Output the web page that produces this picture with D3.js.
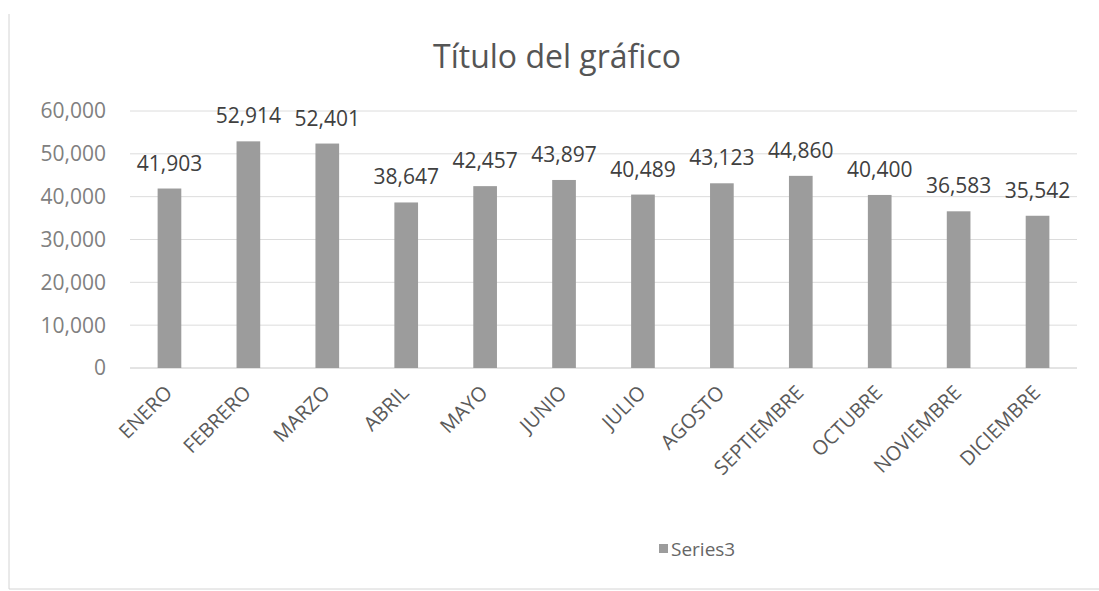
<!DOCTYPE html>
<html>
<head>
<meta charset="utf-8">
<script src="https://cdnjs.cloudflare.com/ajax/libs/d3/7.8.5/d3.min.js"></script>
<style>
    body { margin: 0; background: #fff; }
    svg text { font-family: "Open Sans", "Noto Sans", sans-serif; }
</style>
</head>
<body>
<div id="chart"></div>
<script>
// chart data
const meses = ["ENERO", "FEBRERO", "MARZO", "ABRIL", "MAYO", "JUNIO", "JULIO",
    "AGOSTO", "SEPTIEMBRE", "OCTUBRE", "NOVIEMBRE", "DICIEMBRE"];
const series3 = [41903, 52914, 52401, 38647, 42457, 43897, 40489, 43123, 44860, 40400, 36583, 35542];
const yTicks = [0, 10000, 20000, 30000, 40000, 50000, 60000];
const titulo = "Título del gráfico";
const serieNombre = "Series3";

const width = 1099;
const height = 591;

const svg = d3.select("#chart")
    .append("svg")
    .attr("width", width)
    .attr("height", height);

// faint frame of the scanned chart
svg.append("line")
    .attr("x1", 9).attr("y1", 14).attr("x2", 9).attr("y2", 589)
    .attr("stroke", "#d4d4d4");
svg.append("line")
    .attr("x1", 9).attr("y1", 589).attr("x2", width).attr("y2", 589)
    .attr("stroke", "#d4d4d4");

const x = d3.scaleBand()
    .domain(meses)
    .range([130, 1077])
    .paddingInner(0.7)
    .paddingOuter(0.35);

const y = d3.scaleLinear()
    .domain([0, 60000])
    .range([368, 111]);

const fmt = d3.format(",");

// gridlines
svg.append("g")
    .selectAll("line")
    .data(yTicks)
    .enter()
    .append("line")
    .attr("x1", 130)
    .attr("x2", 1077)
    .attr("y1", d => y(d))
    .attr("y2", d => y(d))
    .attr("stroke", d => d === 0 ? "#c8c8c8" : "#dcdcdc")
    .attr("stroke-width", 1);

// y axis labels
svg.append("g")
    .selectAll("text")
    .data(yTicks)
    .enter()
    .append("text")
    .attr("x", 106)
    .attr("y", d => y(d))
    .attr("dy", ".35em")
    .attr("text-anchor", "end")
    .style("font-size", "21px")
    .style("fill", "#808080")
    .text(d => fmt(d));

// bars
svg.append("g")
    .selectAll("rect")
    .data(series3)
    .enter()
    .append("rect")
    .attr("x", (d, i) => x(meses[i]))
    .attr("y", d => y(d))
    .attr("width", x.bandwidth())
    .attr("height", d => y(0) - y(d))
    .attr("fill", "#9c9c9c");

// data labels
svg.append("g")
    .selectAll("text")
    .data(series3)
    .enter()
    .append("text")
    .attr("x", (d, i) => x(meses[i]) + x.bandwidth() / 2)
    .attr("y", d => y(d) - 18)
    .attr("text-anchor", "middle")
    .style("font-size", "21px")
    .style("fill", "#404040")
    .text(d => fmt(d));

// category labels, rotated
svg.append("g")
    .selectAll("text")
    .data(meses)
    .enter()
    .append("text")
    .attr("transform", d => "translate(" + (x(d) + x.bandwidth() / 2 + 4) + ",394) rotate(-45)")
    .attr("text-anchor", "end")
    .style("font-size", "20px")
    .style("fill", "#5a5a5a")
    .text(d => d);

// title
svg.append("text")
    .attr("x", 557)
    .attr("y", 68)
    .attr("text-anchor", "middle")
    .style("font-size", "32px")
    .style("fill", "#555")
    .text(titulo);

// legend
svg.append("rect")
    .attr("x", 659)
    .attr("y", 544)
    .attr("width", 9)
    .attr("height", 9)
    .attr("fill", "#9c9c9c");
svg.append("text")
    .attr("x", 671)
    .attr("y", 549)
    .attr("dy", ".35em")
    .style("font-size", "19px")
    .style("fill", "#666")
    .text(serieNombre);
</script>
</body>
</html>
